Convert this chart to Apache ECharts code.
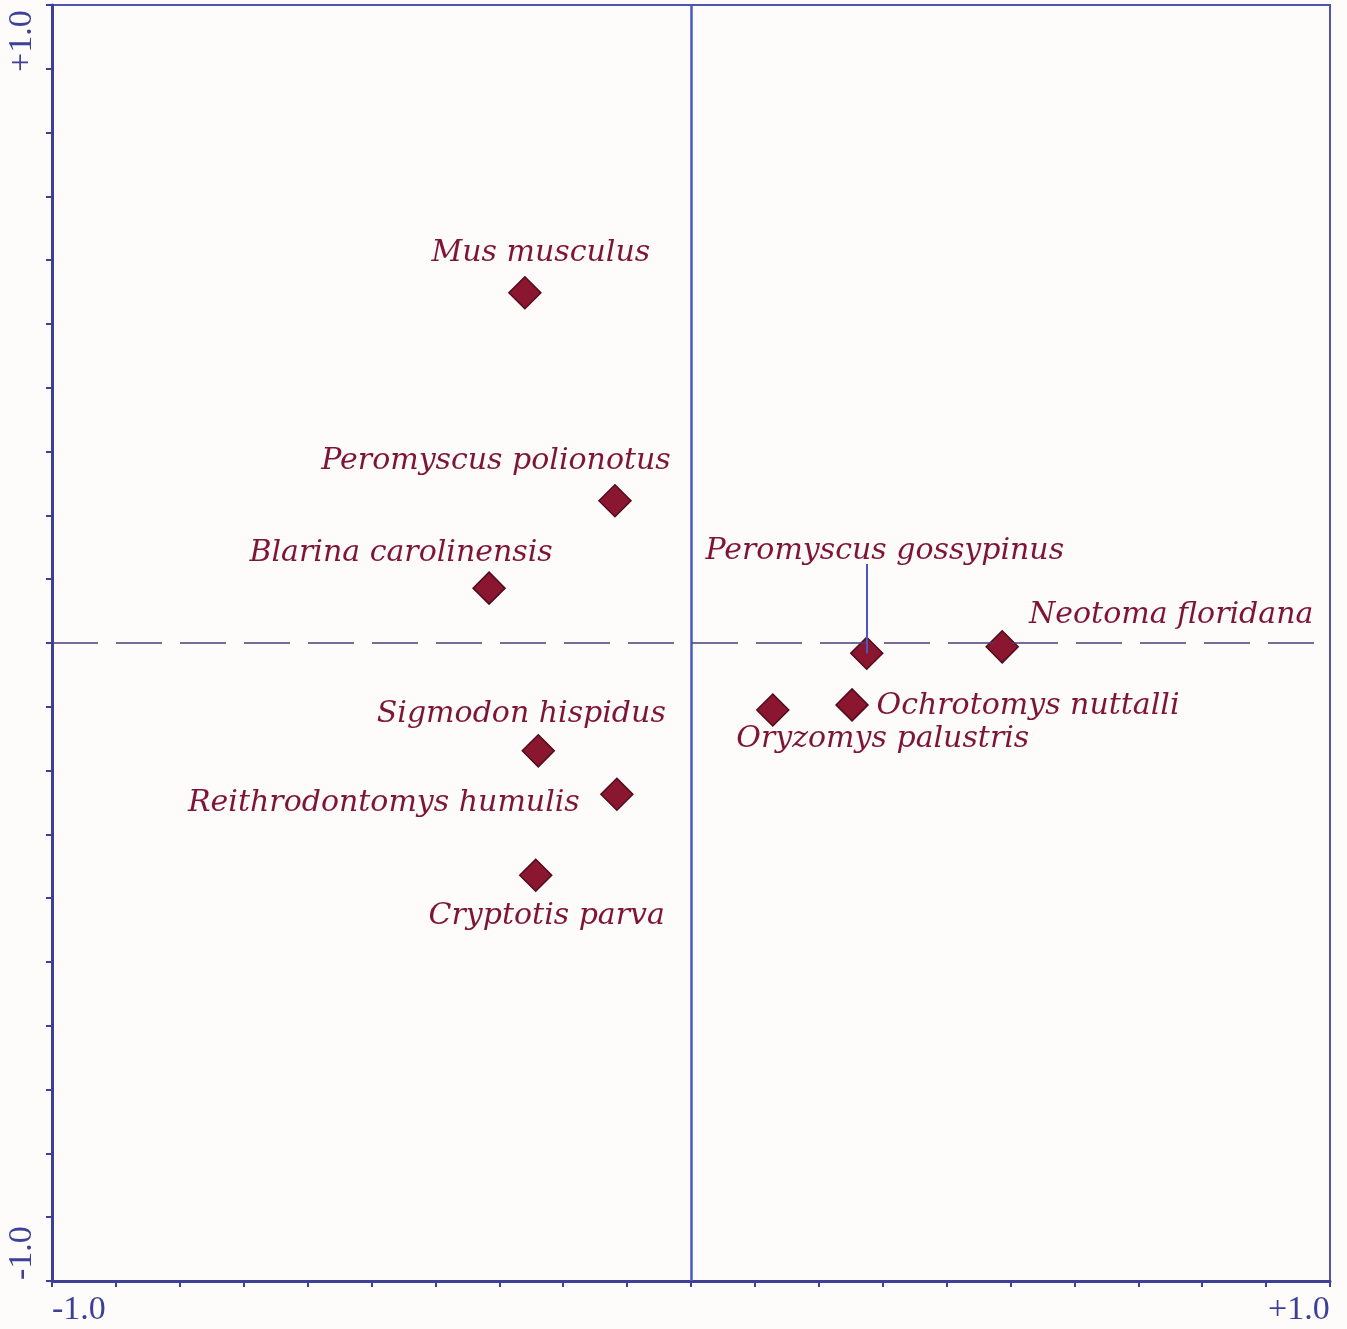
<!DOCTYPE html>
<html>
<head>
<meta charset="utf-8">
<script src="https://cdn.jsdelivr.net/npm/echarts@6/dist/echarts.min.js"></script>
<style>
  html, body { margin: 0; padding: 0; background: #fdfcfb; }
  #chart { width: 1347px; height: 1329px; }
</style>
</head>
<body>
<div id="chart"></div>
<script>
// species ordination scores (axis 1, axis 2)
const species = [
  'Mus musculus', 'Peromyscus polionotus', 'Blarina carolinensis',
  'Sigmodon hispidus', 'Reithrodontomys humulis', 'Cryptotis parva',
  'Peromyscus gossypinus', 'Neotoma floridana', 'Ochrotomys nuttalli',
  'Oryzomys palustris'
]
const axis1 = [-0.260, -0.119, -0.316, -0.239, -0.116, -0.243, 0.275, 0.487, 0.252, 0.128]
const axis2 = [0.549, 0.223, 0.086, -0.169, -0.237, -0.364, -0.016, -0.006, -0.097, -0.105]
const axisMin = -1.0
const axisMax = 1.0
const tickStep = 0.1
const endLabels = ['-1.0', '+1.0']

// label placement relative to marker (pixels)
const labelOffsets = {
  'Mus musculus': [16, -40],
  'Peromyscus polionotus': [-119, -40],
  'Blarina carolinensis': [-88, -35],
  'Sigmodon hispidus': [-17, -37],
  'Reithrodontomys humulis': [-233, 9],
  'Cryptotis parva': [11, 41],
  'Peromyscus gossypinus': [18, -102],
  'Neotoma floridana': [169, -32],
  'Ochrotomys nuttalli': [176, 1],
  'Oryzomys palustris': [110, 29]
}
const leaderFor = 'Peromyscus gossypinus'
const leaderLength = 0.14

const axisBlue = '#3d4096'
const zeroBlue = '#4a58bd'
const wine = '#7f1535'

const chart = echarts.init(document.getElementById('chart'))

const points = species.map((name, i) => ({
  name: name,
  value: [axis1[i], axis2[i]],
  label: { offset: labelOffsets[name] }
}))

const li = species.indexOf(leaderFor)

const valueAxis = (extra) => Object.assign({
  type: 'value',
  min: axisMin,
  max: axisMax,
  interval: tickStep,
  axisLine: { show: true, onZero: false, lineStyle: { color: axisBlue, width: 3 } },
  axisTick: { show: true, inside: false, length: 6, lineStyle: { color: axisBlue, width: 2 } },
  axisLabel: { show: false },
  splitLine: { show: false }
}, extra)

const endFont = '34px "Liberation Serif"'

chart.setOption({
  backgroundColor: '#fdfcfb',
  animation: false,
  grid: {
    left: 52, top: 5, width: 1278, height: 1276,
    show: true, borderColor: '#4d55ad', borderWidth: 2, backgroundColor: 'transparent'
  },
  xAxis: valueAxis({}),
  yAxis: valueAxis({}),
  graphic: [
    { type: 'text', left: 52, top: 1293, style: { text: endLabels[0], font: endFont, fill: axisBlue } },
    { type: 'text', left: 1268, top: 1293, style: { text: endLabels[1], font: endFont, fill: axisBlue } },
    { type: 'text', x: 5, y: 72, rotation: Math.PI / 2, style: { text: endLabels[1], font: endFont, fill: axisBlue } },
    { type: 'text', x: 5, y: 1280, rotation: Math.PI / 2, style: { text: endLabels[0], font: endFont, fill: axisBlue } }
  ],
  series: [
    {
      type: 'line',
      z: 1,
      silent: true,
      symbol: 'none',
      data: [],
      markLine: {
        silent: true,
        symbol: 'none',
        label: { show: false },
        data: [
          { xAxis: 0, lineStyle: { color: zeroBlue, width: 2.5, type: 'solid' } },
          { yAxis: 0, lineStyle: { color: '#4a3d78', width: 1.5, type: [46, 18] } },
          [
            { coord: [axis1[li], axis2[li]], lineStyle: { color: zeroBlue, width: 2, type: 'solid' } },
            { coord: [axis1[li], axis2[li] + leaderLength] }
          ]
        ]
      }
    },
    {
      type: 'scatter',
      z: 3,
      symbol: 'diamond',
      symbolSize: 32,
      itemStyle: { color: '#8a1630', borderColor: '#520b1b', borderWidth: 1.5, opacity: 1 },
      label: {
        show: true,
        position: 'inside',
        formatter: '{b}',
        color: wine,
        fontFamily: 'DejaVu Serif',
        fontStyle: 'italic',
        fontSize: 30,
        align: 'center',
        verticalAlign: 'middle'
      },
      data: points
    }
  ]
})
</script>
</body>
</html>
